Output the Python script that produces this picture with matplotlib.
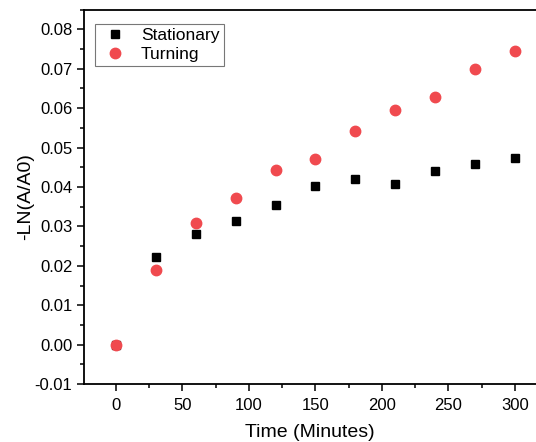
import matplotlib
matplotlib.use('Agg')
import matplotlib.pyplot as plt
from matplotlib.ticker import MultipleLocator

plt.rcParams['font.family'] = ['Liberation Sans', 'DejaVu Sans']

time_min = [0, 30, 60, 90, 120, 150, 180, 210, 240, 270, 300]
stationary = [0.0, 0.0222, 0.0280, 0.0313, 0.0354, 0.0403, 0.0421, 0.0408, 0.0440, 0.0457, 0.0473]
turning = [0.0, 0.0190, 0.0308, 0.0371, 0.0443, 0.0472, 0.0541, 0.0594, 0.0628, 0.0698, 0.0745]

fig = plt.figure(figsize=(5.36, 4.42), dpi=100)
ax = fig.add_axes([0.157, 0.131, 0.843, 0.8475])

ax.plot(time_min, stationary, 's', color='black', markersize=6, label='Stationary')
ax.plot(time_min, turning, 'o', color='#F04A4F', markersize=7.5, label='Turning')

ax.set_xlim(-24, 316)
ax.set_ylim(-0.01, 0.085)
ax.xaxis.set_major_locator(MultipleLocator(50))
ax.xaxis.set_minor_locator(MultipleLocator(25))
ax.yaxis.set_minor_locator(MultipleLocator(0.005))
ax.set_yticks([i * 0.01 for i in range(-1, 9)])
ax.set_yticklabels(['%.2f' % (i * 0.01) for i in range(-1, 9)])

ax.spines['right'].set_visible(False)
for s in ['left', 'bottom', 'top']:
    ax.spines[s].set_linewidth(1.3)
ax.tick_params(which='major', direction='out', length=5, width=1.1, labelsize=12)
ax.tick_params(axis='x', which='major', pad=5)
ax.tick_params(which='minor', direction='out', length=3, width=1.1)
ax.tick_params(top=False, which='both')

ax.set_xlabel('Time (Minutes)', fontsize=14, labelpad=8)
ax.set_ylabel('-LN(A/A0)', fontsize=14, labelpad=0)

leg = ax.legend(loc='upper left', bbox_to_anchor=(0.005, 0.985), fontsize=12.5,
                fancybox=False, edgecolor='#555555', borderpad=0.25,
                handletextpad=0.6, labelspacing=0.2, handlelength=1.8)
leg.get_frame().set_linewidth(0.8)

fig.savefig('out.png', dpi=100)
